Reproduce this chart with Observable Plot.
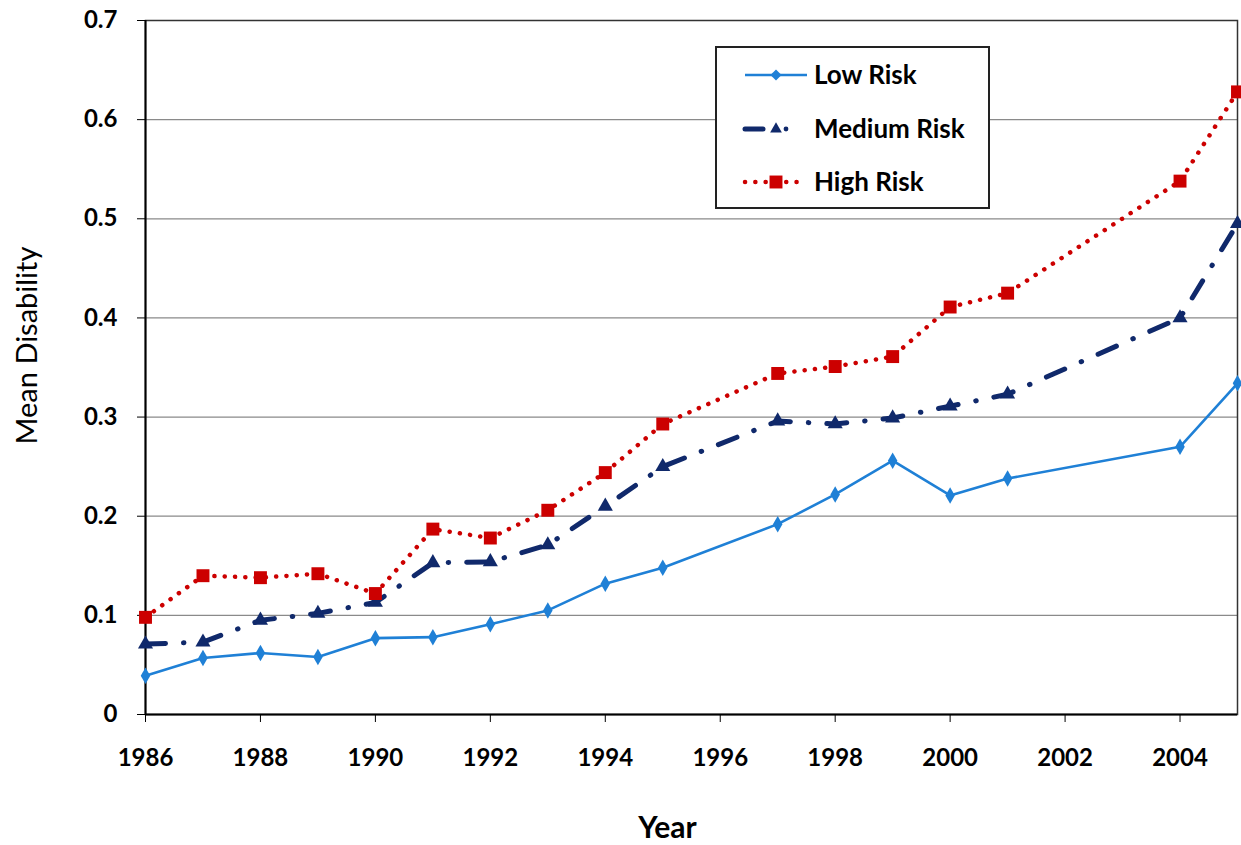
<!DOCTYPE html>
<html><head><meta charset="utf-8">
<script src="https://cdn.jsdelivr.net/npm/d3@7"></script>
<script src="https://cdn.jsdelivr.net/npm/@observablehq/plot@0.6"></script>
<style>
body{margin:0;background:#fff;}
#wrap{position:relative;width:1241px;height:845px;font-family:Lato,sans-serif;}
#legend{position:absolute;left:715px;top:46px;width:271px;height:159px;border:2px solid #222;background:#fff;}
#legend svg{position:absolute;left:0;top:0;}
</style></head><body><div id="wrap"></div>
<script>
const years = [1986,1987,1988,1989,1990,1991,1992,1993,1994,1995,1997,1998,1999,2000,2001,2004,2005];
const lowRisk    = [0.039,0.057,0.062,0.058,0.077,0.078,0.091,0.105,0.132,0.148,0.192,0.222,0.256,0.221,0.238,0.270,0.334];
const mediumRisk = [0.071,0.073,0.095,0.102,0.113,0.153,0.154,0.171,0.210,0.250,0.296,0.293,0.299,0.311,0.323,0.400,0.495];
const highRisk   = [0.098,0.140,0.138,0.142,0.122,0.187,0.178,0.206,0.244,0.293,0.344,0.351,0.361,0.411,0.425,0.538,0.628];
const seriesNames = ["Low Risk","Medium Risk","High Risk"];
const xTicks = [1986,1988,1990,1992,1994,1996,1998,2000,2002,2004];
const yTicks = [0,0.1,0.2,0.3,0.4,0.5,0.6,0.7];

const colors = ["#1f80d6","#10296b","#cc0000"];
const toRows = vals => years.map((y,i)=>({year:y, value:vals[i]}));
const low = toRows(lowRisk), med = toRows(mediumRisk), high = toRows(highRisk);

const medDash = "20,18,0.5,18";
const highDash = "0.1,10.2";

const chart = Plot.plot({
  width:1241, height:845,
  marginLeft:145, marginRight:4, marginTop:20, marginBottom:131,
  style:{fontFamily:"Lato, sans-serif", background:"#fff", color:"#000"},
  x:{domain:[1986,2005]},
  y:{domain:[0,0.7]},
  marks:[
    Plot.ruleY(yTicks.filter(d=>d>0 && d<0.7), {stroke:"#8a8a8a", strokeWidth:1.3}),
    Plot.frame({stroke:"#333", strokeWidth:1.5}),
    Plot.axisY({ticks:yTicks, tickSize:8, tickPadding:20, tickFormat:d=>d===0?"0":d.toFixed(1), fontSize:24, fontWeight:"bold", label:null}),
    Plot.axisX({ticks:xTicks, tickSize:8, tickPadding:26, tickFormat:d=>String(d), fontSize:24, fontWeight:"bold", label:null}),
    Plot.ruleX([1986], {stroke:"#000", strokeWidth:2}),
    Plot.ruleY([0], {stroke:"#000", strokeWidth:2}),
    Plot.line(low, {x:"year", y:"value", stroke:colors[0], strokeWidth:2.6}),
    Plot.dot(low, {x:"year", y:"value", symbol:"diamond", r:5, fill:colors[0]}),
    Plot.line(med, {x:"year", y:"value", stroke:colors[1], strokeWidth:5, strokeDasharray:medDash, strokeLinecap:"round"}),
    Plot.dot(med, {x:"year", y:"value", symbol:"triangle", r:5.6, fill:colors[1]}),
    Plot.line(high, {x:"year", y:"value", stroke:colors[2], strokeWidth:4.5, strokeDasharray:highDash, strokeLinecap:"round"}),
    Plot.dot(high, {x:"year", y:"value", symbol:"square", r:7.3, fill:colors[2]}),
    Plot.text(["Year"], {text:d=>d, frameAnchor:"bottom", lineAnchor:"middle", dx:-24, dy:114, fontSize:30, fontWeight:"bold"}),
    Plot.text(["Mean Disability"], {text:d=>d, frameAnchor:"left", textAnchor:"middle", lineAnchor:"middle", dx:-118, dy:-22, rotate:-90, fontSize:29})
  ]
});
const wrap = document.getElementById("wrap");
wrap.appendChild(chart);

// legend (inside plot area, like the original)
const leg = document.createElement("div");
leg.id = "legend";
wrap.appendChild(leg);
const svg = d3.select(leg).append("svg").attr("width",271).attr("height",159);
const rowsY = [27,81,134];
const x0 = 28, x1 = 90, xm = 59;
// Low
svg.append("line").attr("x1",x0).attr("x2",x1).attr("y1",rowsY[0]).attr("y2",rowsY[0]).attr("stroke",colors[0]).attr("stroke-width",2.6);
svg.append("path").attr("transform",`translate(${xm},${rowsY[0]})`).attr("d",d3.symbol(d3.symbolDiamond2, 5*5*Math.PI)()).attr("fill",colors[0]);
// Medium
svg.append("line").attr("x1",x0).attr("x2",x0+18).attr("y1",rowsY[1]).attr("y2",rowsY[1]).attr("stroke",colors[1]).attr("stroke-width",5).attr("stroke-linecap","round");
svg.append("path").attr("transform",`translate(${xm},${rowsY[1]})`).attr("d",d3.symbol(d3.symbolTriangle2, 5.6*5.6*Math.PI)()).attr("fill",colors[1]);
svg.append("circle").attr("cx",xm+10).attr("cy",rowsY[1]).attr("r",2.4).attr("fill",colors[1]);
// High
svg.append("line").attr("x1",x0).attr("x2",x1-4).attr("y1",rowsY[2]).attr("y2",rowsY[2]).attr("stroke",colors[2]).attr("stroke-width",4.5).attr("stroke-dasharray",highDash).attr("stroke-linecap","round");
svg.append("path").attr("transform",`translate(${xm},${rowsY[2]})`).attr("d",d3.symbol(d3.symbolSquare, 7.3*7.3*Math.PI)()).attr("fill",colors[2]);
seriesNames.forEach((n,i)=>{
  svg.append("text").attr("x",97).attr("y",rowsY[i]).attr("dy","0.35em")
    .attr("font-family","Lato, sans-serif").attr("font-weight","bold").attr("font-size",26).attr("fill","#000").text(n);
});
</script>
</body></html>
